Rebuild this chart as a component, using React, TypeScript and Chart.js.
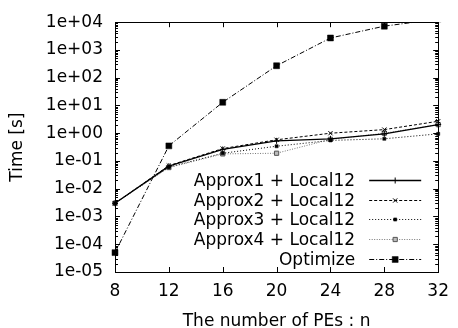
import React, { useEffect, useRef } from 'react';
import { Chart, registerables } from 'chart.js';
import { drawPoint } from 'chart.js/helpers';

Chart.register(...registerables);

// ---- data ----
const peCounts = [8, 12, 16, 20, 24, 28, 32];
const approx1Local12 = [0.003, 0.065, 0.26, 0.53, 0.63, 0.95, 2.05];
const approx2Local12 = [0.003, 0.068, 0.28, 0.58, 1.0, 1.35, 2.7];
const approx3Local12 = [0.003, 0.06, 0.19, 0.34, 0.55, 0.63, 0.95];
const approx4Local12 = [0.003, 0.058, 0.18, 0.19, 0.6, 1.0, 2.05];
const optimize = [5e-5, 0.35, 13, 270, 2700, 7200, 13000];
const seriesLabels = [
  'Approx1 + Local12',
  'Approx2 + Local12',
  'Approx3 + Local12',
  'Approx4 + Local12',
  'Optimize',
];
const yTickValues = [1e-5, 1e-4, 1e-3, 1e-2, 1e-1, 1e0, 1e1, 1e2, 1e3, 1e4];
const yTickLabels = ['1e-05', '1e-04', '1e-03', '1e-02', '1e-01', '1e+00', '1e+01', '1e+02', '1e+03', '1e+04'];
const minorMultipliers = [2, 3, 4, 5, 6, 7, 8, 9];
const xTitle = 'The number of PEs : n';
const yTitle = 'Time [s]';

const FONT_FAMILY = '"DejaVu Sans", "Liberation Sans", sans-serif';
const FONT_SIZE = 17;

const framePlugin = {
  id: 'frameTicks',
  afterDatasetsDraw(chart: any) {
    const { ctx, chartArea } = chart;
    const { left, right, top, bottom } = chartArea;
    const xs = chart.scales.x;
    const ys = chart.scales.y;
    ctx.save();
    ctx.strokeStyle = '#000';
    ctx.lineWidth = 1;
    ctx.setLineDash([]);
    ctx.beginPath();
    const major = 5;
    const minor = 3;
    xs.ticks.forEach((t: any) => {
      const px = Math.round(xs.getPixelForValue(t.value)) + 0.5;
      ctx.moveTo(px, bottom);
      ctx.lineTo(px, bottom - major);
      ctx.moveTo(px, top);
      ctx.lineTo(px, top + major);
    });
    yTickValues.forEach((v) => {
      const py = Math.round(ys.getPixelForValue(v)) + 0.5;
      ctx.moveTo(left, py);
      ctx.lineTo(left + major, py);
      ctx.moveTo(right, py);
      ctx.lineTo(right - major, py);
    });
    yTickValues.slice(0, -1).forEach((d) => {
      minorMultipliers.forEach((m) => {
        const py = Math.round(ys.getPixelForValue(d * m)) + 0.5;
        ctx.moveTo(left, py);
        ctx.lineTo(left + minor, py);
        ctx.moveTo(right, py);
        ctx.lineTo(right - minor, py);
      });
    });
    ctx.stroke();
    ctx.strokeRect(Math.round(left) + 0.5, Math.round(top) + 0.5, Math.round(right - left), Math.round(bottom - top));
    ctx.restore();
  },
  afterDraw(chart: any) {
    const { ctx, chartArea } = chart;
    const { right, bottom } = chartArea;
    const n = chart.data.datasets.length;
    const rowGap = 19.8;
    const textRight = right - 83;
    const lineStart = right - 69;
    const lineEnd = right - 17;
    const markerX = right - 43;
    ctx.save();
    ctx.font = `${FONT_SIZE}px ${FONT_FAMILY}`;
    ctx.textAlign = 'right';
    ctx.textBaseline = 'alphabetic';
    chart.data.datasets.forEach((ds: any, i: number) => {
      const baseline = bottom - 7 - (n - 1 - i) * rowGap;
      const ly = Math.round(baseline - 6) + 0.5;
      ctx.fillStyle = '#000';
      ctx.fillText(ds.label, textRight, baseline);
      ctx.strokeStyle = ds.borderColor;
      ctx.lineWidth = ds.borderWidth;
      ctx.setLineDash(ds.borderDash || []);
      ctx.beginPath();
      ctx.moveTo(lineStart, ly);
      ctx.lineTo(lineEnd, ly);
      ctx.stroke();
      ctx.setLineDash([]);
      ctx.fillStyle = ds.pointBackgroundColor;
      ctx.strokeStyle = ds.pointBorderColor;
      ctx.lineWidth = ds.pointBorderWidth;
      drawPoint(ctx, {
        pointStyle: ds.pointStyle,
        radius: ds.pointRadius,
        rotation: 0,
        borderWidth: ds.pointBorderWidth,
      } as any, markerX, ly);
    });
    ctx.restore();
  },
};

function App() {
  const canvasRef = useRef<HTMLCanvasElement | null>(null);

  useEffect(() => {
    if (!canvasRef.current) return;
    const font = { family: FONT_FAMILY, size: FONT_SIZE };
    const clip = { left: 10, right: 10, top: 0, bottom: 10 };
    const mk = (values: number[]) => values.map((v, i) => ({ x: peCounts[i], y: v }));
    const chart = new Chart(canvasRef.current, {
      type: 'line',
      data: {
        datasets: [
          {
            label: seriesLabels[0],
            data: mk(approx1Local12),
            borderColor: '#000',
            borderWidth: 1.3,
            borderDash: [],
            pointStyle: 'cross',
            pointRadius: 3,
            pointBorderWidth: 1,
            pointBackgroundColor: '#000',
            pointBorderColor: '#000',
            clip,
          },
          {
            label: seriesLabels[1],
            data: mk(approx2Local12),
            borderColor: '#000',
            borderWidth: 1,
            borderDash: [3, 2],
            pointStyle: 'crossRot',
            pointRadius: 3,
            pointBorderWidth: 1,
            pointBackgroundColor: '#000',
            pointBorderColor: '#000',
            clip,
          },
          {
            label: seriesLabels[2],
            data: mk(approx3Local12),
            borderColor: '#000',
            borderWidth: 1,
            borderDash: [1, 2],
            pointStyle: 'rect',
            pointRadius: 2.2,
            pointBorderWidth: 0.5,
            pointBackgroundColor: '#000',
            pointBorderColor: '#000',
            clip,
          },
          {
            label: seriesLabels[3],
            data: mk(approx4Local12),
            borderColor: '#777',
            borderWidth: 1,
            borderDash: [1, 1.5],
            pointStyle: 'rect',
            pointRadius: 3,
            pointBorderWidth: 1,
            pointBackgroundColor: '#bbb',
            pointBorderColor: '#555',
            clip,
          },
          {
            label: seriesLabels[4],
            data: mk(optimize),
            borderColor: '#000',
            borderWidth: 1,
            borderDash: [5, 2, 1, 2],
            pointStyle: 'rect',
            pointRadius: 4.2,
            pointBorderWidth: 0.5,
            pointBackgroundColor: '#000',
            pointBorderColor: '#000',
            clip,
          },
        ] as any,
      },
      options: {
        responsive: false,
        animation: false,
        devicePixelRatio: 1,
        layout: { padding: { top: 20, right: 11, left: 0, bottom: 0 } },
        elements: { line: { tension: 0 } },
        plugins: { legend: { display: false }, tooltip: { enabled: false } },
        scales: {
          x: {
            type: 'linear',
            min: 8,
            max: 32,
            ticks: {
              stepSize: 4,
              padding: 9,
              color: '#000',
              font,
              maxRotation: 0,
              autoSkip: false,
            },
            grid: { display: false, drawTicks: false },
            border: { display: false },
            title: {
              display: true,
              text: xTitle,
              color: '#000',
              font: { ...font, lineHeight: 1 },
              padding: { top: 0, bottom: -2 },
            },
            afterFit: (s: any) => {
              s.height = 56;
            },
          },
          y: {
            type: 'logarithmic',
            min: 1e-5,
            max: 1e4,
            afterBuildTicks: (s: any) => {
              s.ticks = yTickValues.map((v) => ({ value: v, major: true }));
            },
            ticks: {
              padding: 12,
              color: '#000',
              font,
              autoSkip: false,
              callback: (v: any) => {
                const idx = yTickValues.findIndex((t) => Math.abs(Math.log10(t / Number(v))) < 1e-6);
                return idx >= 0 ? yTickLabels[idx] : '';
              },
            },
            grid: { display: false, drawTicks: false },
            border: { display: false },
            title: {
              display: true,
              text: yTitle,
              color: '#000',
              font: { ...font, lineHeight: 1 },
              padding: { top: 9.5, bottom: 0 },
            },
            afterFit: (s: any) => {
              s.width = 115;
            },
          },
        },
      } as any,
      plugins: [framePlugin],
    });
    return () => chart.destroy();
  }, []);

  return (
    <div style={{ position: 'absolute', left: 0, top: 0, width: 458, height: 328, background: '#fff' }}>
      <canvas ref={canvasRef} width={458} height={328} style={{ display: 'block' }} />
    </div>
  );
}

export default App;
